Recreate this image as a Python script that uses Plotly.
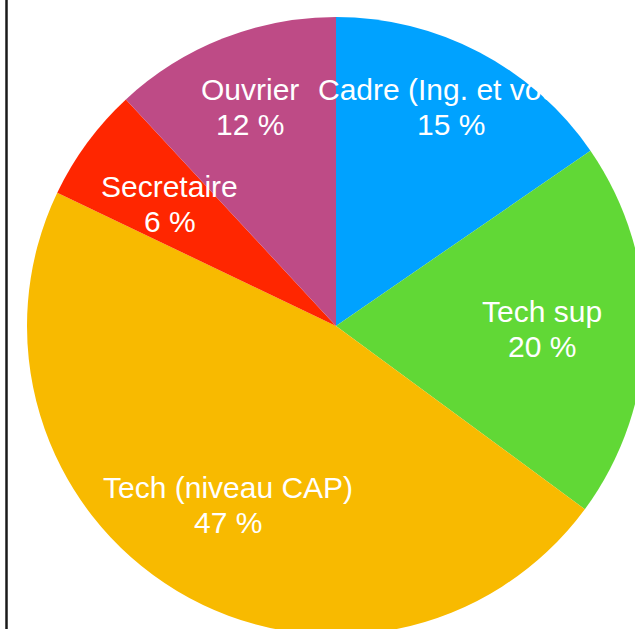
import math
import plotly.graph_objects as go

# ---- data ----
categories = ["Cadre (Ing. et vous)", "Tech sup", "Tech (niveau CAP)", "Secretaire", "Ouvrier"]
shares = [15.4, 19.7, 47.0, 6.0, 11.9]
colors = ["#00a2ff", "#61d836", "#f8ba00", "#ff2600", "#be4b86"]

# ---- layout constants (pixels) ----
W, H = 660, 660          # figure larger than the window; the window crops it
CX, CY, R = 336, 326, 309  # pie centre and radius
LABEL_RADIUS = [0.80, 0.668, 0.677, 0.668, 0.763]
LINE_OFFSET = 17.5
FONT = "Liberation Sans, Arial, Helvetica, sans-serif"
FS = 30

fig = go.Figure()
fig.add_trace(go.Pie(
    labels=categories,
    values=shares,
    sort=False,
    direction="clockwise",
    rotation=0,
    marker=dict(colors=colors, line=dict(width=0)),
    textinfo="none",
    hoverinfo="skip",
    showlegend=False,
    domain=dict(x=[(CX - R) / W, (CX + R) / W],
                y=[(H - CY - R) / H, (H - CY + R) / H]),
))

total = sum(shares)
cum = 0.0
annotations = []
for name, v, rf in zip(categories, shares, LABEL_RADIUS):
    mid = (cum + v / 2) / total * 2 * math.pi
    cum += v
    px = CX + R * rf * math.sin(mid)
    py = CY - R * rf * math.cos(mid)
    for txt, dy in ((name, -LINE_OFFSET), (f"{round(v)} %", LINE_OFFSET)):
        annotations.append(dict(
            x=px / W, y=(H - (py + dy)) / H, xref="paper", yref="paper",
            text=txt, showarrow=False, xanchor="center", yanchor="middle",
            font=dict(family=FONT, size=FS, color="white"),
        ))

fig.update_layout(
    width=W, height=H,
    margin=dict(l=0, r=0, t=0, b=0),
    paper_bgcolor="white", plot_bgcolor="white",
    annotations=annotations,
    shapes=[dict(type="line", xref="paper", yref="paper",
                 x0=6.5 / W, x1=6.5 / W, y0=0, y1=1,
                 line=dict(color="#1a1a1a", width=2.5))],
)

fig.write_html(
    "out.html",
    config={"displayModeBar": False},
    post_script="document.body.style.margin='0';document.body.style.overflow='hidden';"
                "document.documentElement.style.overflow='hidden';",
)
